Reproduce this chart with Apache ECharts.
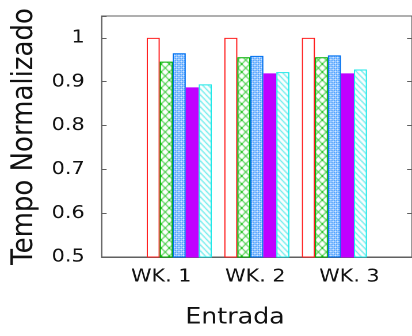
<!DOCTYPE html>
<html>
<head>
<meta charset="utf-8">
<script src="https://cdn.jsdelivr.net/npm/echarts@6/dist/echarts.min.js"></script>
<style>
html,body{margin:0;padding:0;background:#fff;overflow:hidden}
#wrap{width:412px;height:336px;overflow:hidden}
#c{width:358px;height:336px;transform:scaleX(1.150838);transform-origin:0 0}
</style>
</head>
<body>
<div id="wrap"><div id="c"></div></div>
<script>
const categories = ['WK. 1', 'WK. 2', 'WK. 3'];
const seriesRed = [1.0, 1.0, 1.0];
const seriesGreen = [0.946, 0.956, 0.956];
const seriesBlue = [0.965, 0.959, 0.960];
const seriesPurple = [0.887, 0.919, 0.919];
const seriesCyan = [0.894, 0.922, 0.928];
const yTicks = [0.5, 0.6, 0.7, 0.8, 0.9, 1.0];

function tile(w, h, draw) {
  const c = document.createElement('canvas');
  c.width = w; c.height = h;
  const g = c.getContext('2d');
  g.fillStyle = '#fff'; g.fillRect(0, 0, w, h);
  draw(g, w, h);
  return { image: c, repeat: 'repeat' };
}
const greenPat = tile(7, 8, (g, w, h) => {
  g.strokeStyle = '#10c010'; g.lineWidth = 1;
  g.beginPath(); g.moveTo(0, 0); g.lineTo(w, h); g.moveTo(w, 0); g.lineTo(0, h); g.stroke();
});
const bluePat = tile(4, 4, (g) => {
  g.fillStyle = '#a8d0ff'; g.fillRect(0, 0, 4, 4);
  g.fillStyle = '#1080ff';
  g.fillRect(0, 0, 1, 1); g.fillRect(2, 2, 1, 1); g.fillRect(2, 0, 1, 1); g.fillRect(0, 2, 1, 1);
  g.fillStyle = '#ffffff';
  g.fillRect(1, 1, 1, 1); g.fillRect(3, 3, 1, 1);
});
const cyanPat = tile(5, 6, (g, w, h) => {
  g.strokeStyle = '#20e4e4'; g.lineWidth = 1;
  g.beginPath();
  for (let k = -1; k <= 1; k++) { g.moveTo(k * w, 0); g.lineTo(k * w + w, h); }
  g.stroke();
});

const font = 'DejaVu Sans';
const axisData = [''].concat(categories).concat(['']);
const pad = v => [null].concat(v).concat([null]);

function bar(data, fill, border) {
  return {
    type: 'bar', xAxisIndex: 0, yAxisIndex: 0,
    data: pad(data), barWidth: 11.3, barGap: '0%',
    itemStyle: { color: fill, borderColor: border, borderWidth: 1 },
    animation: false
  };
}

const chart = echarts.init(document.getElementById('c'), null, { renderer: 'canvas', devicePixelRatio: 2 });
chart.setOption({
  animation: false,
  backgroundColor: '#fff',
  grid: { left: 84.3, right: -1, top: 16, bottom: 79, show: true, borderColor: '#606060', borderWidth: 1, backgroundColor: 'transparent' },
  xAxis: [
    {
      type: 'category', data: axisData, boundaryGap: false,
      axisLine: { show: true, lineStyle: { color: '#606060', width: 1 } },
      axisTick: { show: false }, axisLabel: { show: false }, splitLine: { show: false }
    },
    {
      type: 'value', position: 'bottom', min: 0.3665, max: 3.665,
      axisLine: { show: false }, axisTick: { show: false }, splitLine: { show: false },
      axisLabel: {
        customValues: [1, 2, 3], margin: 11,
        formatter: v => categories[Math.round(v) - 1] || '',
        color: '#111', fontFamily: font, fontSize: 18
      },
      name: 'Entrada', nameLocation: 'middle', nameGap: 50,
      nameTextStyle: { fontFamily: font, fontSize: 22, color: '#111', padding: [0, 38, 0, 0] }
    }
  ],
  yAxis: [
    {
      type: 'value', min: 0.5, max: 1.05, interval: 0.1,
      axisLine: { show: true, lineStyle: { color: '#606060' } },
      axisTick: { show: true, inside: true, length: 4.3, lineStyle: { color: '#606060' } },
      splitLine: { show: false },
      axisLabel: {
        customValues: yTicks, margin: 14.8, color: '#111', fontFamily: font, fontSize: 18,
        formatter: v => String(Math.round(v * 10) / 10)
      },
      name: 'Tempo Normalizado', nameLocation: 'middle', nameGap: 52,
      nameTextStyle: { fontFamily: font, fontSize: 26, color: '#111' }
    },
    {
      type: 'value', position: 'right', min: 0.5, max: 1.05, interval: 0.1,
      axisLine: { show: false },
      axisTick: { show: true, inside: true, length: 4.3, customValues: yTicks, lineStyle: { color: '#606060' } },
      axisLabel: { show: false }, splitLine: { show: false }
    }
  ],
  series: [
    bar(seriesRed, '#ffffff', '#ff2020'),
    bar(seriesGreen, greenPat, '#00b000'),
    bar(seriesBlue, bluePat, '#0070f0'),
    bar(seriesPurple, '#c000ff', '#c000ff'),
    bar(seriesCyan, cyanPat, '#20e8e8')
  ]
});
</script>
</body>
</html>
